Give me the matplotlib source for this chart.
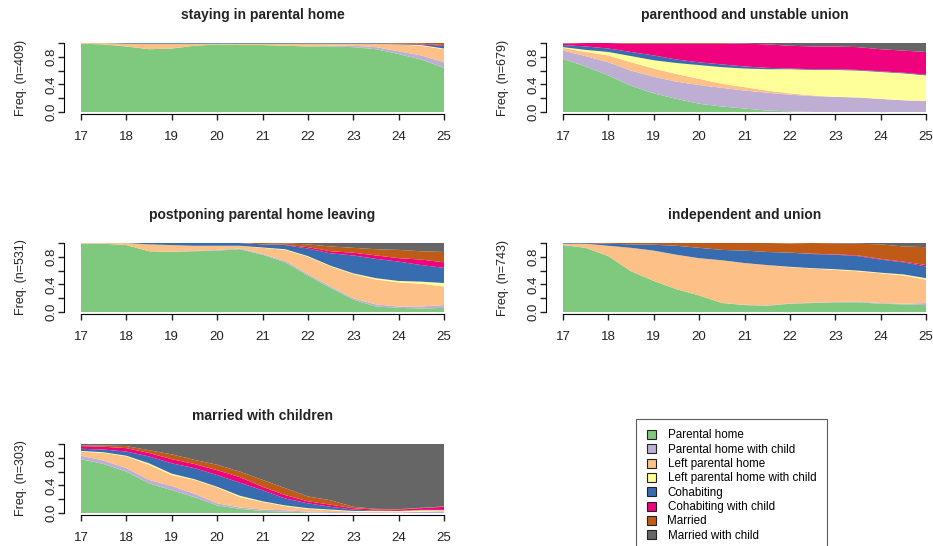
import matplotlib.pyplot as plt
from matplotlib.patches import Patch

plt.rcParams['font.family'] = ['Liberation Sans', 'DejaVu Sans']

# ages (half-year steps)
ages = [17.0, 17.5, 18.0, 18.5, 19.0, 19.5, 20.0, 20.5, 21.0,
        21.5, 22.0, 22.5, 23.0, 23.5, 24.0, 24.5, 25.0]

states = ['Parental home', 'Parental home with child', 'Left parental home',
          'Left parental home with child', 'Cohabiting', 'Cohabiting with child',
          'Married', 'Married with child']
colors = ['#7FC97F', '#BEAED4', '#FDC086', '#FFFF99',
          '#386CB0', '#F0027F', '#BF5B17', '#666666']

# state distributions, one row per state (same order as states)
staying = [
    [.99, .98, .95, .91, .92, .96, .98, .97, .97, .96, .95, .95, .94, .91, .84, .76, .64],
    [0, 0, 0, 0, 0, 0, 0, 0, 0, 0, 0, .01, .02, .03, .04, .06, .08],
    [.01, .02, .04, .08, .07, .03, .01, .02, .02, .03, .04, .03, .03, .05, .10, .14, .19],
    [0, 0, 0, 0, 0, 0, 0, 0, 0, 0, 0, 0, 0, 0, 0, .01, .01],
    [0, 0, .01, .01, .01, .01, .01, .01, .01, .01, .01, .01, .01, .01, .01, .01, .04],
    [0, 0, 0, 0, 0, 0, 0, 0, 0, 0, 0, 0, 0, 0, 0, .01, .01],
    [0, 0, 0, 0, 0, 0, 0, 0, 0, 0, 0, 0, 0, 0, .01, .01, .03],
    [0, 0, 0, 0, 0, 0, 0, 0, 0, 0, 0, 0, 0, 0, 0, 0, 0],
]

parenthood = [
    [.77, .66, .53, .38, .27, .19, .12, .08, .05, .02, .01, 0, 0, 0, 0, 0, 0],
    [.12, .15, .19, .22, .24, .25, .27, .27, .26, .26, .24, .23, .22, .21, .19, .17, .16],
    [.04, .06, .10, .12, .12, .11, .09, .06, .05, .03, .02, .01, 0, 0, 0, 0, 0],
    [.01, .03, .05, .09, .12, .16, .20, .24, .27, .31, .35, .37, .39, .39, .39, .39, .37],
    [.03, .05, .05, .06, .07, .05, .04, .04, .03, .02, .01, .01, .01, .01, .01, .01, .01],
    [.02, .05, .08, .12, .17, .23, .27, .30, .33, .34, .33, .33, .33, .33, .32, .32, .33],
    [.01, 0, 0, .01, .01, .01, .01, .01, 0, 0, 0, 0, 0, 0, 0, 0, 0],
    [0, 0, 0, 0, 0, 0, 0, 0, .01, .02, .04, .05, .05, .06, .09, .11, .13],
]

postponing = [
    [.99, .99, .97, .88, .87, .88, .89, .91, .83, .72, .53, .35, .18, .08, .06, .05, .06],
    [0, 0, 0, 0, .005, .005, .01, .01, .01, .02, .02, .02, .02, .03, .02, .03, .04],
    [.01, .01, .03, .10, .095, .075, .06, .04, .09, .16, .25, .29, .35, .36, .35, .33, .27],
    [0, 0, 0, 0, 0, 0, 0, 0, .005, .01, .01, .01, .01, .02, .02, .03, .05],
    [0, 0, 0, .02, .03, .04, .04, .04, .045, .06, .11, .18, .26, .28, .28, .24, .22],
    [0, 0, 0, 0, 0, 0, 0, 0, 0, .005, .02, .03, .04, .05, .05, .08, .08],
    [0, 0, 0, 0, 0, 0, 0, 0, .02, .02, .04, .07, .07, .09, .12, .12, .15],
    [0, 0, 0, 0, 0, 0, 0, 0, 0, .005, .02, .05, .07, .09, .10, .12, .13],
]

independent = [
    [.97, .93, .81, .59, .45, .33, .24, .13, .10, .09, .12, .13, .14, .14, .12, .11, .10],
    [0, 0, 0, 0, 0, 0, 0, 0, .005, .005, .005, .005, .005, .01, .01, .01, .03],
    [.02, .06, .15, .34, .44, .50, .54, .62, .605, .585, .525, .495, .465, .44, .43, .41, .34],
    [0, 0, 0, 0, 0, 0, 0, 0, 0, 0, .005, .005, .01, .01, .01, .015, .02],
    [.01, .01, .03, .05, .085, .13, .15, .15, .18, .19, .205, .205, .21, .21, .19, .175, .17],
    [0, 0, 0, 0, 0, 0, 0, 0, 0, 0, 0, .005, .005, .01, .01, .01, .02],
    [0, 0, .01, .02, .025, .04, .07, .10, .11, .13, .135, .155, .16, .17, .21, .22, .26],
    [0, 0, 0, 0, 0, 0, 0, 0, 0, 0, 0, 0, .005, .01, .02, .05, .06],
]

married = [
    [.78, .71, .60, .43, .33, .23, .11, .06, .03, .02, .01, 0, 0, 0, 0, 0, 0],
    [.05, .05, .05, .05, .06, .05, .03, .02, .02, .02, .01, .015, .01, .01, .01, .015, .02],
    [.06, .11, .17, .22, .16, .20, .23, .15, .11, .06, .04, .025, .01, .005, 0, .005, .01],
    [.01, .01, .01, .02, .02, .01, .01, .02, .01, .01, .01, .01, .01, .015, .02, .02, .01],
    [.03, .04, .06, .10, .15, .16, .17, .19, .16, .10, .07, .04, .02, .005, 0, .005, .005],
    [.04, .04, .05, .05, .06, .06, .07, .08, .05, .05, .03, .03, .02, .015, .02, .025, .045],
    [.01, .02, .03, .04, .07, .06, .08, .08, .10, .10, .07, .065, .02, .01, .005, .005, .005],
    [.02, .02, .03, .09, .15, .23, .30, .40, .52, .64, .76, .815, .91, .94, .945, .925, .905],
]

clusters = [staying, parenthood, postponing, independent, married]
titles = ['staying in parental home', 'parenthood and unstable union',
          'postponing parental home leaving', 'independent and union',
          'married with children']
counts = [409, 679, 531, 743, 303]

W, H = 933, 546
# top-left corner (px) of each bar area
corners = [(81, 43), (563, 43), (81, 243), (563, 243), (81, 444)]
pw, ph = 363, 69

fig = plt.figure(figsize=(W / 100, H / 100), dpi=100)

for dist, title, n, (x0, y0) in zip(clusters, titles, counts, corners):
    ax = fig.add_axes([x0 / W, 1 - (y0 + ph) / H, pw / W, ph / H])
    ax.stackplot(ages, dist, colors=colors, linewidth=0)
    ax.set_xlim(17, 25)
    ax.set_ylim(0, 1)
    ax.spines['top'].set_visible(False)
    ax.spines['right'].set_visible(False)
    ax.spines['left'].set_position(('outward', 12))
    ax.spines['bottom'].set_position(('outward', 1.5))
    ax.spines['left'].set_bounds(0, 1)
    ax.set_xticks(range(17, 26))
    ax.set_yticks([0, 0.2, 0.4, 0.6, 0.8, 1.0])
    ax.set_yticklabels(['0.0', '', '0.4', '', '0.8', ''], rotation=90, va='center')
    ax.tick_params(axis='both', length=4, width=1, labelsize=9.5, colors='#222222')
    ax.tick_params(axis='x', pad=8)
    ax.tick_params(axis='y', pad=1)
    ax.set_ylabel('Freq. (n=%d)' % n, fontsize=9, labelpad=13, color='#222222')
    ax.set_title(title, fontweight='bold', fontsize=10, pad=17, color='#222222')

handles = [Patch(facecolor=c, edgecolor='#222222', linewidth=0.8) for c in colors]
leg = fig.legend(handles, states, loc='upper left', bbox_to_anchor=(636 / W, 1 - 419 / H),
                 fontsize=8.4, frameon=True, fancybox=False, edgecolor='#333333',
                 handlelength=0.8, handleheight=0.8, handletextpad=1.0,
                 labelspacing=0.2, borderpad=0.9, borderaxespad=0)
leg.get_frame().set_linewidth(0.8)

fig.savefig('out.png', dpi=100)
